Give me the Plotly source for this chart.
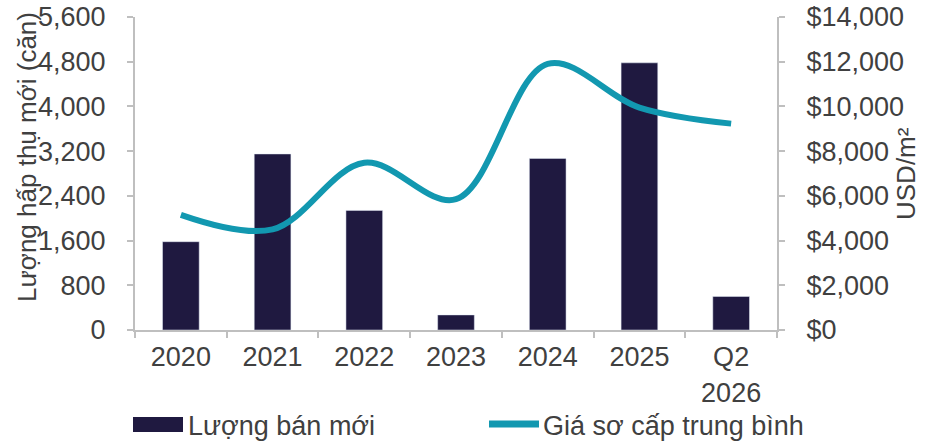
import plotly.graph_objects as go

categories = ["2020", "2021", "2022", "2023", "2024", "2025", "Q2<br>2026"]
sales = [1580, 3150, 2140, 270, 3070, 4780, 600]
price = [5150, 4500, 7480, 5850, 11900, 9950, 9230]
left_ticks = [0, 800, 1600, 2400, 3200, 4000, 4800, 5600]
right_ticks = [0, 2000, 4000, 6000, 8000, 10000, 12000, 14000]

BAR = "#1f1940"
LINE = "#1298b0"
FONT = "Liberation Sans, Arial, sans-serif"
TXT = "#404040"
AX = "#bfbfbf"

W, H = 928, 445
# plot area in page pixels
PL, PR, PT, PB = 135, 777, 17, 330
L, R, T, B = PL, W - PR, PT, H - PB
PW, PH = W - L - R, H - T - B

def px(x):
    return (x - L) / PW

def py(y):
    return (H - B - y) / PH

fig = go.Figure()
fig.add_trace(go.Bar(x=categories, y=sales, marker_color=BAR, width=0.4,
                     name="Lượng bán mới", showlegend=False))
fig.add_trace(go.Scatter(x=categories, y=price, yaxis="y2", mode="lines",
                         line=dict(color=LINE, width=6, shape="spline", smoothing=1),
                         name="Giá sơ cấp trung bình", showlegend=False))

axis_common = dict(showline=True, linecolor=AX, linewidth=2, ticks="outside",
                   tickcolor=AX, ticklen=6, tickwidth=2, showgrid=False,
                   zeroline=False, automargin=False, ticklabeloverflow="allow",
                   tickfont=dict(size=27, color=TXT))

fig.update_layout(
    width=W, height=H,
    margin=dict(l=L, r=R, t=T, b=B),
    paper_bgcolor="white", plot_bgcolor="white",
    font=dict(family=FONT, size=27, color=TXT),
    xaxis=dict(**axis_common, tickson="boundaries", ticklabelstandoff=2),
    yaxis=dict(**axis_common, range=[0, 5600], tickvals=left_ticks,
               ticktext=[f"{v:,}" for v in left_ticks], ticklabelstandoff=16),
    yaxis2=dict(**axis_common, range=[0, 14000], tickvals=right_ticks,
                ticktext=[f"${v:,}" for v in right_ticks],
                overlaying="y", side="right", ticklabelstandoff=16),
    bargap=0.6,
)

# axis titles
fig.add_annotation(xref="paper", yref="paper", x=px(27), y=py(157),
                   text="Lượng hấp thụ mới (căn)", textangle=-90, showarrow=False,
                   xanchor="center", yanchor="middle", font=dict(size=26, color=TXT))
fig.add_annotation(xref="paper", yref="paper", x=px(906), y=py(174),
                   text="USD/m²", textangle=-90, showarrow=False,
                   xanchor="center", yanchor="middle", font=dict(size=26, color=TXT))

# custom legend
fig.add_shape(type="rect", xref="paper", yref="paper",
              x0=px(133), x1=px(183), y0=py(432), y1=py(417),
              fillcolor=BAR, line=dict(width=0))
fig.add_annotation(xref="paper", yref="paper", x=px(186), y=py(426),
                   text="Lượng bán mới", showarrow=False, xanchor="left", yanchor="middle",
                   font=dict(size=27, color=TXT))
fig.add_shape(type="line", xref="paper", yref="paper",
              x0=px(489), x1=px(539), y0=py(424), y1=py(424),
              line=dict(color=LINE, width=7))
fig.add_annotation(xref="paper", yref="paper", x=px(541), y=py(426),
                   text="Giá sơ cấp trung bình", showarrow=False, xanchor="left", yanchor="middle",
                   font=dict(size=27, color=TXT))

fig.write_html("out.html", config={"displayModeBar": False},
               post_script="document.body.style.margin='0';document.body.style.overflow='hidden';")
